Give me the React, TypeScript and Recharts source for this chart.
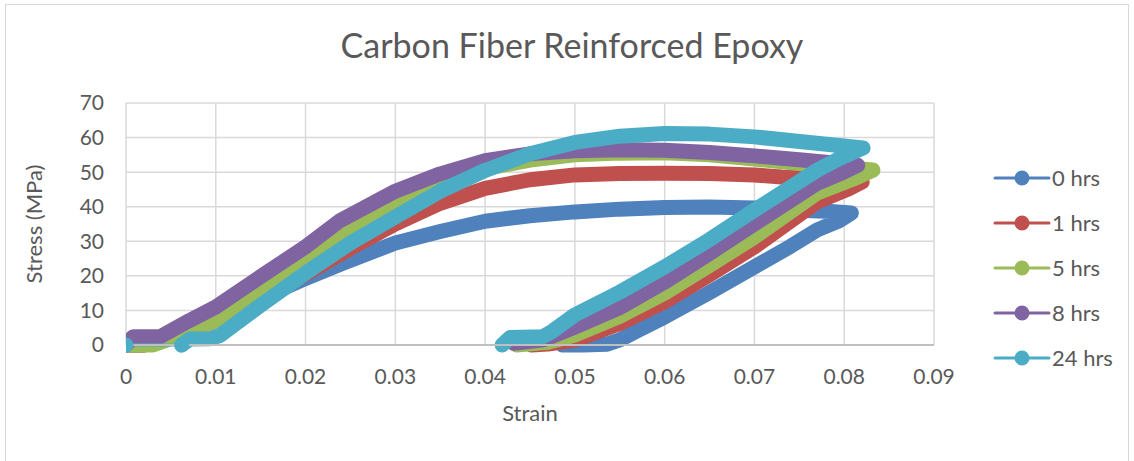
import { CartesianGrid, Label, Legend, Line, LineChart, XAxis, YAxis } from "recharts";

type Pt = [number, number];

// [strain, stress (MPa)] in test order: loading, then unloading
const hrs0: Pt[] = [
    [0, 0], [0.002, 0], [0.006, 3.5], [0.01, 8], [0.015, 13.5], [0.0195, 18.7], [0.024, 23.5],
    [0.03, 29.5], [0.035, 32.8], [0.04, 35.8], [0.045, 37.4], [0.05, 38.5], [0.055, 39.3],
    [0.06, 39.8], [0.065, 39.9], [0.07, 39.6], [0.075, 39], [0.0785, 38.6], [0.0808, 38.2],
    [0.0795, 36], [0.077, 33.3], [0.074, 28.5], [0.07, 22.6], [0.065, 15.2], [0.06, 8.1],
    [0.057, 4.2], [0.055, 1.5], [0.0535, 0.2], [0.051, 0], [0.0486, 0],
];

const hrs1: Pt[] = [
    [0, 0], [0.002, 0], [0.006, 3], [0.01, 7], [0.0168, 15.9], [0.02, 20.5], [0.025, 28],
    [0.03, 35], [0.035, 41], [0.04, 45.3], [0.045, 47.8], [0.05, 49.2], [0.055, 49.6],
    [0.06, 49.7], [0.065, 49.6], [0.07, 49.2], [0.073, 48.6], [0.078, 48], [0.082, 47.2],
    [0.0805, 45.2], [0.077, 41.4], [0.07, 28.4], [0.065, 20.3], [0.06, 12.5], [0.055, 6.2],
    [0.05, 1.4], [0.047, 0.3], [0.0452, 0],
];

const hrs5: Pt[] = [
    [0, 0], [0.003, 0], [0.006, 2.8], [0.01, 7], [0.015, 15], [0.02, 23.7], [0.025, 33],
    [0.03, 40.5], [0.035, 46.5], [0.04, 51], [0.045, 53.5], [0.05, 55], [0.055, 55.5],
    [0.06, 55.6], [0.065, 55], [0.07, 53.8], [0.075, 52.5], [0.0832, 50.6],
    [0.081, 48], [0.077, 44], [0.07, 31.2], [0.065, 23], [0.06, 15], [0.055, 8.3], [0.05, 2.9],
    [0.047, 0.8], [0.0435, 0],
];

const hrs8: Pt[] = [
    [0, 0], [0.0008, 2.4], [0.0038, 2.4], [0.007, 7], [0.01, 11], [0.015, 19.8], [0.02, 28.4],
    [0.0238, 35.9], [0.03, 44.5], [0.035, 49.5], [0.04, 53.3], [0.045, 55.3], [0.05, 56.2],
    [0.055, 56.5], [0.06, 56.3], [0.065, 55.7], [0.07, 54.7], [0.075, 53.6], [0.0815, 52],
    [0.0795, 49.5], [0.077, 46.8], [0.07, 35], [0.065, 26.5], [0.06, 18.2], [0.055, 10.8],
    [0.05, 5.2], [0.0465, 1.5], [0.0432, 0.5],
];

const hrs24: Pt[] = [
    [0, 0], [0.0062, 0], [0.0071, 1.7], [0.0094, 1.8], [0.0105, 2.8], [0.015, 11.5], [0.02, 20.8],
    [0.025, 29.5], [0.03, 37], [0.035, 44.5], [0.04, 50.5], [0.045, 55.3], [0.05, 58.6],
    [0.055, 60.4], [0.06, 61.2], [0.065, 61], [0.07, 60.2], [0.0745, 59], [0.0821, 57],
    [0.0795, 54], [0.077, 50.6], [0.07, 39], [0.065, 30.5], [0.06, 22.6], [0.055, 15.3],
    [0.05, 8.7], [0.0475, 4], [0.0464, 2.4], [0.0428, 2.2], [0.0419, 0],
];

const seriesNames = ["0 hrs", "1 hrs", "5 hrs", "8 hrs", "24 hrs"];
const seriesColors = ["#4F81BD", "#C0504D", "#9BBB59", "#8064A2", "#4BACC6"];
const seriesData = [hrs0, hrs1, hrs5, hrs8, hrs24];

const xTicks = [0, 0.01, 0.02, 0.03, 0.04, 0.05, 0.06, 0.07, 0.08, 0.09];
const yTicks = [0, 10, 20, 30, 40, 50, 60, 70];

const FONT = "Lato, 'Open Sans', sans-serif";
const TEXT = "#595959";

const toRows = (pts: Pt[]) => pts.map(([x, y]) => ({ x, y }));

function LegendBox() {
    return (
        <div style={{ fontFamily: FONT, fontSize: 22, color: TEXT }}>
            {seriesNames.map((name, i) => (
                <div key={name} style={{ display: "flex", alignItems: "center", height: 45 }}>
                    <svg width={58} height={20}>
                        <line x1={2} y1={10} x2={56} y2={10} stroke={seriesColors[i]} strokeWidth={3} strokeLinecap="round" />
                        <circle cx={29} cy={10} r={7.5} fill={seriesColors[i]} />
                    </svg>
                    <span style={{ marginLeft: 1 }}>{name}</span>
                </div>
            ))}
        </div>
    );
}

export default function App() {
    return (
        <div style={{ position: "absolute", left: 0, top: 0, width: 1134, height: 461, background: "#fff", overflow: "hidden" }}>
            <div style={{ position: "absolute", left: 5, top: 4, width: 1122, height: 480, border: "1.5px solid #d9d9d9" }} />
            <div style={{ position: "absolute", left: 0, top: 24, width: 1144, textAlign: "center", fontFamily: FONT, fontSize: 34, color: TEXT }}>
                Carbon Fiber Reinforced Epoxy
            </div>
            <div style={{ position: "absolute", left: 0, top: 0 }}>
                <LineChart width={1134} height={461} margin={{ top: 103, right: 200, bottom: 76, left: 0 }}>
                    <CartesianGrid stroke="#d9d9d9" strokeWidth={1.5} />
                    <XAxis
                        type="number"
                        dataKey="x"
                        domain={[0, 0.09]}
                        ticks={xTicks}
                        allowDataOverflow
                        height={40}
                        tickLine={false}
                        axisLine={{ stroke: "#bfbfbf", strokeWidth: 2 }}
                        tick={{ fill: TEXT, fontSize: 21, fontFamily: FONT }}
                        tickMargin={18}
                        tickFormatter={(v: number) => String(v)}
                    >
                        <Label
                            content={({ viewBox }: any) => (
                                <text x={viewBox.x + viewBox.width / 2} y={421} textAnchor="middle" fill={TEXT} fontSize={22} fontFamily={FONT}>
                                    Strain
                                </text>
                            )}
                        />
                    </XAxis>
                    <YAxis
                        type="number"
                        domain={[0, 70]}
                        ticks={yTicks}
                        width={126}
                        tickLine={false}
                        axisLine={false}
                        tick={{ fill: TEXT, fontSize: 21, fontFamily: FONT }}
                        tickMargin={16}
                    >
                        <Label
                            content={({ viewBox }: any) => (
                                <text
                                    x={33}
                                    y={viewBox.y + viewBox.height / 2}
                                    transform={`rotate(-90, 33, ${viewBox.y + viewBox.height / 2})`}
                                    textAnchor="middle"
                                    dominantBaseline="central"
                                    fill={TEXT}
                                    fontSize={22}
                                    fontFamily={FONT}
                                >
                                    Stress (MPa)
                                </text>
                            )}
                        />
                    </YAxis>
                    <Legend
                        layout="vertical"
                        align="center"
                        verticalAlign="middle"
                        content={() => <LegendBox />}
                        wrapperStyle={{ left: 993, top: 155, width: 140 }}
                    />
                    {seriesData.map((pts, i) => (
                        <Line
                            key={seriesNames[i]}
                            name={seriesNames[i]}
                            data={toRows(i === 4 ? pts.slice(1) : pts)}
                            dataKey="y"
                            type="linear"
                            stroke={seriesColors[i]}
                            strokeWidth={15}
                            strokeLinecap="round"
                            strokeLinejoin="round"
                            dot={false}
                            activeDot={false}
                            isAnimationActive={false}
                        />
                    ))}
                    <Line
                        name="24 hrs start"
                        legendType="none"
                        data={toRows(hrs24.slice(0, 2))}
                        dataKey="y"
                        type="linear"
                        stroke={seriesColors[4]}
                        strokeWidth={3}
                        dot={{ r: 7.5, fill: seriesColors[4], stroke: "none" }}
                        activeDot={false}
                        isAnimationActive={false}
                    />
                </LineChart>
            </div>
        </div>
    );
}
